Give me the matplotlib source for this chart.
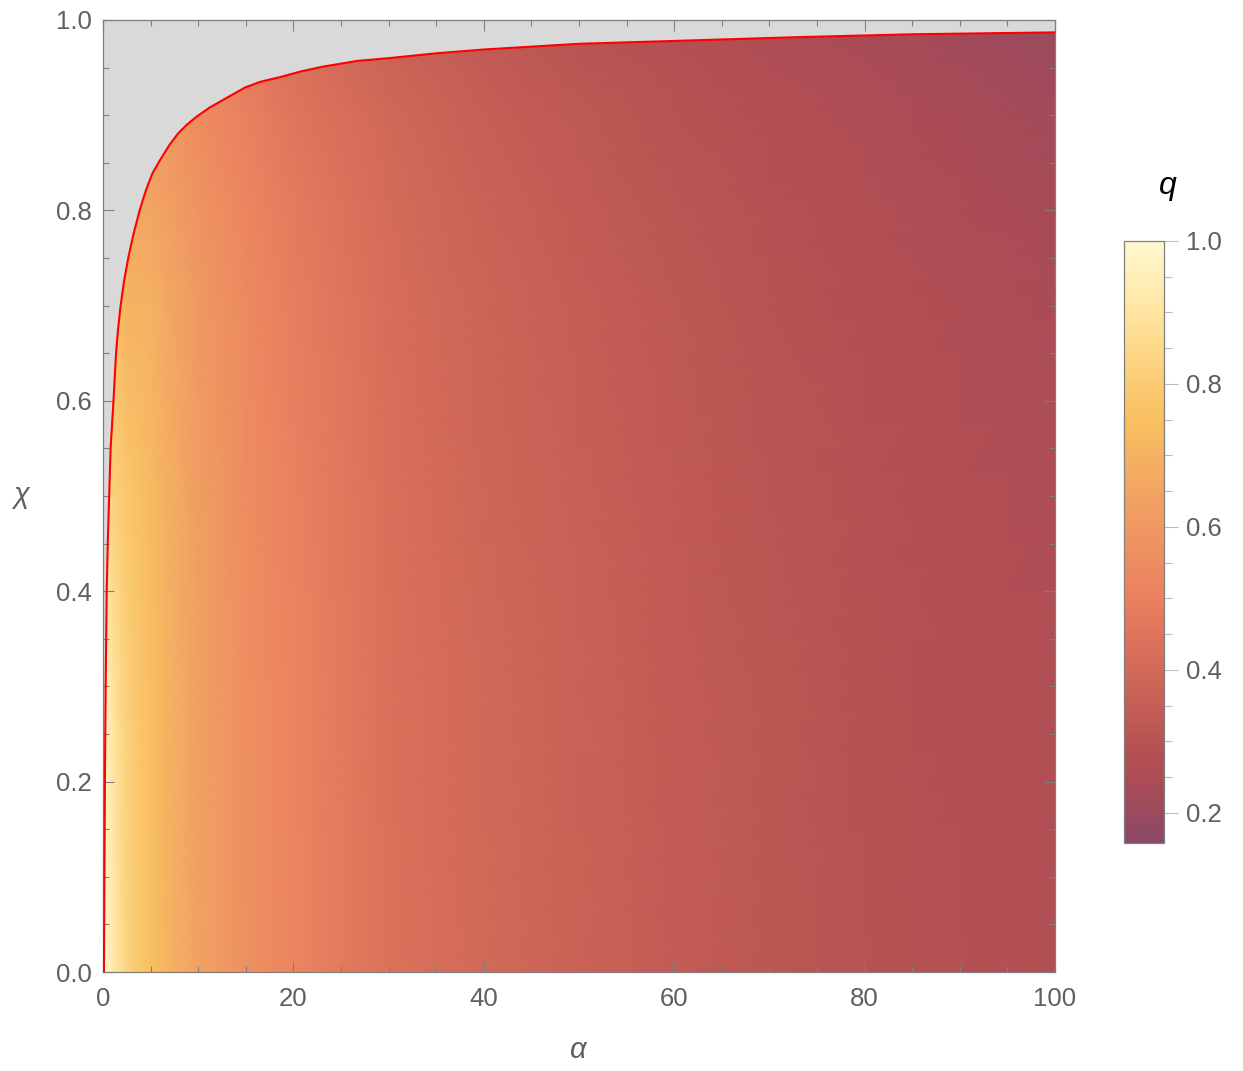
import numpy as np
import matplotlib
matplotlib.use("Agg")
import matplotlib.pyplot as plt
from matplotlib.colors import LinearSegmentedColormap
from matplotlib.patches import Polygon
from matplotlib.ticker import MultipleLocator, FormatStrFormatter

# ---- data ----
alpha_nodes = [0, 1, 2, 3, 5, 7, 10, 15, 20, 30, 40, 50, 60, 70, 80, 90, 100]
chi_nodes = [0.0, 0.3, 0.5, 0.7, 0.8, 0.9, 0.95, 1.0]
q_chi_000 = [1.00, 0.93, 0.86, 0.81, 0.75, 0.70, 0.64, 0.57, 0.52, 0.44, 0.40, 0.37, 0.345, 0.32, 0.30, 0.285, 0.27]
q_chi_030 = [0.98, 0.90, 0.84, 0.80, 0.745, 0.695, 0.635, 0.565, 0.515, 0.437, 0.397, 0.366, 0.341, 0.316, 0.296, 0.281, 0.266]
q_chi_050 = [0.95, 0.82, 0.80, 0.77, 0.73, 0.685, 0.625, 0.555, 0.505, 0.43, 0.39, 0.36, 0.335, 0.31, 0.29, 0.273, 0.258]
q_chi_070 = [0.90, 0.76, 0.72, 0.70, 0.70, 0.66, 0.605, 0.54, 0.49, 0.42, 0.38, 0.35, 0.325, 0.30, 0.28, 0.262, 0.245]
q_chi_080 = [0.85, 0.72, 0.68, 0.66, 0.655, 0.63, 0.585, 0.525, 0.478, 0.41, 0.37, 0.34, 0.315, 0.29, 0.27, 0.252, 0.235]
q_chi_090 = [0.80, 0.68, 0.64, 0.62, 0.61, 0.59, 0.55, 0.50, 0.455, 0.395, 0.355, 0.326, 0.30, 0.277, 0.257, 0.24, 0.222]
q_chi_095 = [0.78, 0.66, 0.62, 0.60, 0.59, 0.57, 0.53, 0.48, 0.44, 0.38, 0.343, 0.315, 0.29, 0.267, 0.247, 0.228, 0.21]
q_chi_100 = [0.75, 0.64, 0.60, 0.58, 0.57, 0.55, 0.51, 0.46, 0.42, 0.365, 0.33, 0.30, 0.275, 0.25, 0.23, 0.212, 0.195]

# boundary curve (red) : alpha, chi
boundary_alpha = [0.1, 0.15, 0.2, 0.28, 0.39, 0.5, 0.65, 0.8, 1.1, 1.37, 1.58, 1.85, 2.2, 2.65, 3.2, 3.85,
                  4.5, 5.2, 6.0, 7.0, 7.9, 8.8, 9.9, 11.2, 12.6, 14.9, 16.5, 18.6, 20.8, 23.1, 26.7,
                  30.1, 35, 40, 50, 60, 73, 85, 100]
boundary_chi = [0.0, 0.1, 0.2, 0.3, 0.4, 0.45, 0.5, 0.55, 0.6, 0.65, 0.675, 0.7, 0.725, 0.75, 0.775, 0.8,
                0.821, 0.839, 0.853, 0.869, 0.881, 0.890, 0.899, 0.908, 0.916, 0.929, 0.935, 0.940,
                0.946, 0.951, 0.957, 0.960, 0.965, 0.969, 0.975, 0.978, 0.982, 0.985, 0.987]

# colour scale (legend) values and colours
q_min, q_max = 0.158, 1.0
cmap_values = [0.158, 0.20, 0.25, 0.30, 0.35, 0.40, 0.45, 0.50, 0.55, 0.60, 0.65, 0.70,
               0.75, 0.80, 0.85, 0.90, 0.95, 1.00]
cmap_colors = ["#8A4868", "#9C4A5E", "#AD4C55", "#B85352", "#C55E55", "#D26A58", "#DE745C",
               "#EB8060", "#EE8C60", "#EF9862", "#F2A462", "#F5B262", "#F8C060", "#FBCB72",
               "#FDD888", "#FFE4A0", "#FFEFB8", "#FFF8D0"]
cbar_ticks = [0.2, 0.4, 0.6, 0.8, 1.0]

# ---- figure ----
W, H = 1243, 1071
fig = plt.figure(figsize=(W / 100, H / 100), dpi=100)
ax = fig.add_axes([103 / W, (H - 972) / H, 952 / W, 952 / H])
cax = fig.add_axes([1124 / W, (H - 843) / H, 40 / W, 602 / H])

grey = "#7f7f7f"
txt = "#5f5f5f"
font = "Liberation Sans"
tsize = 18.5

pos = [(v - q_min) / (q_max - q_min) for v in cmap_values]
cmap = LinearSegmentedColormap.from_list("sunsetlike", list(zip(pos, cmap_colors)))

Q = np.array([q_chi_000, q_chi_030, q_chi_050, q_chi_070, q_chi_080, q_chi_090, q_chi_095, q_chi_100])
A, C = np.meshgrid(alpha_nodes, chi_nodes)

ax.set_facecolor("#D9D9D9")
mesh = ax.pcolormesh(A, C, Q, shading="gouraud", cmap=cmap, vmin=q_min, vmax=q_max, zorder=1)
clip_pts = list(zip(boundary_alpha, boundary_chi)) + [(100, 0.0)]
clip_poly = Polygon(clip_pts, closed=True, transform=ax.transData, facecolor="none", edgecolor="none")
ax.add_patch(clip_poly)
mesh.set_clip_path(clip_poly)

ax.plot(boundary_alpha, boundary_chi, color="red", lw=1.5, zorder=3, solid_joinstyle="round")

ax.set_xlim(0, 100)
ax.set_ylim(0, 1)
ax.xaxis.set_major_locator(MultipleLocator(20))
ax.xaxis.set_minor_locator(MultipleLocator(5))
ax.yaxis.set_major_locator(MultipleLocator(0.2))
ax.yaxis.set_minor_locator(MultipleLocator(0.05))
ax.yaxis.set_major_formatter(FormatStrFormatter("%.1f"))
ax.tick_params(which="both", direction="in", top=True, right=True, color=grey, width=0.8,
               labelcolor=txt, labelsize=tsize)
ax.tick_params(axis="x", which="major", pad=11)
ax.tick_params(axis="y", which="major", pad=8)
ax.tick_params(which="major", length=8)
ax.tick_params(which="minor", length=4.5)
for lab in ax.get_xticklabels() + ax.get_yticklabels():
    lab.set_fontfamily(font)
for s in ax.spines.values():
    s.set_color(grey)
    s.set_linewidth(0.9)

ax.set_xlabel("α", fontsize=21, color=txt, style="italic", family=font, va="center")
ax.xaxis.set_label_coords((578 - 103) / 952, (972 - 1050) / 952)
ax.set_ylabel("χ", fontsize=21, color=txt, style="italic", family=font, rotation=0,
              va="center", ha="center")
ax.yaxis.set_label_coords((21 - 103) / 952, (972 - 495) / 952)

cb = fig.colorbar(mesh, cax=cax, ticks=cbar_ticks)
cb.outline.set_edgecolor(grey)
cb.outline.set_linewidth(0.9)
cax.yaxis.set_minor_locator(MultipleLocator(0.05))
cax.yaxis.set_major_formatter(FormatStrFormatter("%.1f"))
cax.tick_params(which="both", direction="out", color="#bbbbbb", width=0.8, labelcolor=txt,
                labelsize=tsize, pad=6)
cax.tick_params(which="major", length=10)
cax.tick_params(which="minor", length=6)
for lab in cax.get_yticklabels():
    lab.set_fontfamily(font)
cax.set_ylim(q_min, q_max)
fig.text(1168 / W, (H - 186) / H, "q", fontsize=23, style="italic", family=font, color="black",
         ha="center", va="center")

fig.savefig("out.png", dpi=100)
